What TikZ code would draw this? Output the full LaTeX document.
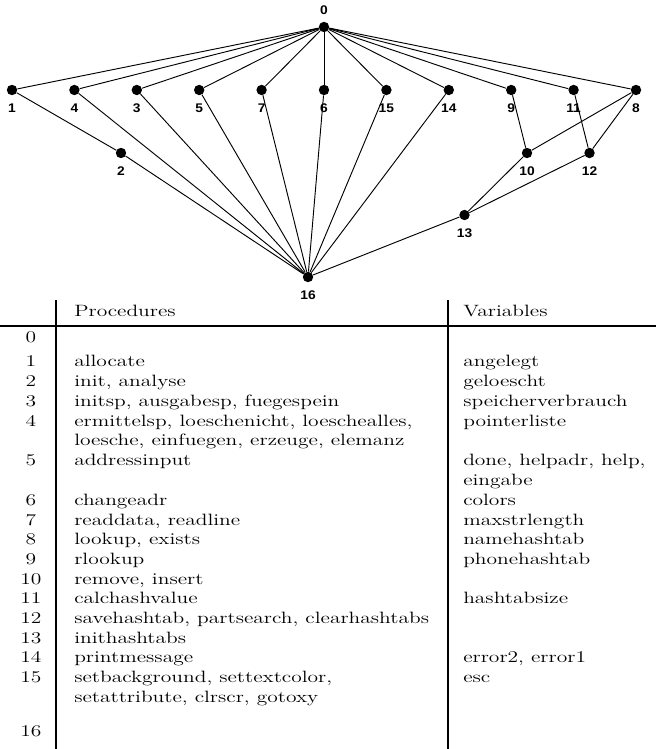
\documentclass[tikz,border=0pt]{standalone}
\usepackage{fontspec}
\usepackage{graphicx}
\newfontfamily\lblfont{Liberation Sans}
\newcommand{\sx}[1]{\scalebox{1.31}[1]{#1}}
\newcommand{\lx}[1]{\scalebox{1.1}[1]{\lblfont\bfseries #1}}
\begin{document}
\begin{tikzpicture}[x=0.75pt,y=-0.75pt,
  dot/.style={circle,fill=black,inner sep=0pt,minimum size=7.8pt},
  lbl/.style={inner sep=0pt,font=\fontsize{9.4}{11}\selectfont},
  edge/.style={line width=0.7pt},
  txt/.style={anchor=base west,inner sep=0pt,font=\fontsize{12.3}{14.8}\selectfont},
  num/.style={anchor=base,inner sep=0pt,font=\fontsize{12.3}{14.8}\selectfont},
  tabrule/.style={line width=1.5pt}]
\useasboundingbox (0,0) rectangle (656,749);
% graph nodes
\node[dot] (n0) at (324,27) {};
\node[dot] (n1) at (12,90) {};
\node[dot] (n4) at (74.4,90) {};
\node[dot] (n3) at (136.8,90) {};
\node[dot] (n5) at (199.2,90) {};
\node[dot] (n7) at (261.6,90) {};
\node[dot] (n6) at (324,90) {};
\node[dot] (n15) at (386.4,90) {};
\node[dot] (n14) at (448.8,90) {};
\node[dot] (n9) at (511.2,90) {};
\node[dot] (n11) at (573.6,90) {};
\node[dot] (n8) at (636,90) {};
\node[dot] (n2) at (121,153) {};
\node[dot] (n10) at (527,153) {};
\node[dot] (n12) at (589.5,153) {};
\node[dot] (n13) at (464.5,215) {};
\node[dot] (n16) at (308,277) {};
% labels
\node[lbl] (l0) at (324,10) {\lx{0}};
\node[lbl] (l1) at (12,108) {\lx{1}};
\node[lbl] (l4) at (74.4,108) {\lx{4}};
\node[lbl] (l3) at (136.8,108) {\lx{3}};
\node[lbl] (l5) at (199.2,108) {\lx{5}};
\node[lbl] (l7) at (261.6,108) {\lx{7}};
\node[lbl] (l6) at (324,108) {\lx{6}};
\node[lbl] (l15) at (386.4,108) {\lx{15}};
\node[lbl] (l14) at (448.8,108) {\lx{14}};
\node[lbl] (l9) at (511.2,108) {\lx{9}};
\node[lbl] (l11) at (573.6,108) {\lx{11}};
\node[lbl] (l8) at (636,108) {\lx{8}};
\node[lbl] (l2) at (121,171) {\lx{2}};
\node[lbl] (l10) at (527,171) {\lx{10}};
\node[lbl] (l12) at (589.5,171) {\lx{12}};
\node[lbl] (l13) at (464.5,233.5) {\lx{13}};
\node[lbl] (l16) at (308,295) {\lx{16}};
% edges
\foreach \t in {1,4,3,5,7,6,15,14,9,11,8} \draw[edge] (n0) -- (n\t);
\draw[edge] (n1) -- (n2);
\foreach \s in {2,4,3,5,7,6,15,14,13} \draw[edge] (n\s) -- (n16);
\draw[edge] (n9) -- (n10);
\draw[edge] (n8) -- (n10);
\draw[edge] (n11) -- (n12);
\draw[edge] (n8) -- (n12);
\draw[edge] (n10) -- (n13);
\draw[edge] (n12) -- (n13);
% table rules
\coordinate (va) at (56,300);
\coordinate (vb) at (56,749);
\coordinate (vc) at (448,300);
\coordinate (vd) at (448,749);
\coordinate (ha) at (0,325.5);
\coordinate (hb) at (656,325.5);
\draw[tabrule] (va) -- (vb);
\draw[tabrule] (vc) -- (vd);
\draw[tabrule] (ha) -- (hb);
% header
\node[txt] (hp) at (74,316.3) {\sx{Procedures}};
\node[txt] (hv) at (463,316.3) {\sx{Variables}};
% row numbers
\node[num] (k0) at (31,342.3) {\sx{0}};
\node[num] (k1) at (31,366.9) {\sx{1}};
\node[num] (k2) at (31,386.6) {\sx{2}};
\node[num] (k3) at (31,406.3) {\sx{3}};
\node[num] (k4) at (31,426) {\sx{4}};
\node[num] (k5) at (31,465.4) {\sx{5}};
\node[num] (k6) at (31,505.3) {\sx{6}};
\node[num] (k7) at (31,525) {\sx{7}};
\node[num] (k8) at (31,544.7) {\sx{8}};
\node[num] (k9) at (31,564.4) {\sx{9}};
\node[num] (k10) at (31,584.1) {\sx{10}};
\node[num] (k11) at (31,603.8) {\sx{11}};
\node[num] (k12) at (31,623.5) {\sx{12}};
\node[num] (k13) at (31,643.2) {\sx{13}};
\node[num] (k14) at (31,662.9) {\sx{14}};
\node[num] (k15) at (31,682.6) {\sx{15}};
\node[num] (k16) at (31,736.8) {\sx{16}};
% procedures
\node[txt] (p1) at (74,366.9) {\sx{allocate}};
\node[txt] (p2) at (74,386.6) {\sx{init, analyse}};
\node[txt] (p3) at (74,406.3) {\sx{initsp, ausgabesp, fuegespein}};
\node[txt] (p4) at (74,426) {\sx{ermittelsp, loeschenicht, loeschealles,}};
\node[txt] (p4b) at (74,445.7) {\sx{loesche, einfuegen, erzeuge, elemanz}};
\node[txt] (p5) at (74,465.4) {\sx{addressinput}};
\node[txt] (p6) at (74,505.3) {\sx{changeadr}};
\node[txt] (p7) at (74,525) {\sx{readdata, readline}};
\node[txt] (p8) at (74,544.7) {\sx{lookup, exists}};
\node[txt] (p9) at (74,564.4) {\sx{rlookup}};
\node[txt] (p10) at (74,584.1) {\sx{remove, insert}};
\node[txt] (p11) at (74,603.8) {\sx{calchashvalue}};
\node[txt] (p12) at (74,623.5) {\sx{savehashtab, partsearch, clearhashtabs}};
\node[txt] (p13) at (74,643.2) {\sx{inithashtabs}};
\node[txt] (p14) at (74,662.9) {\sx{printmessage}};
\node[txt] (p15) at (74,682.6) {\sx{setbackground, settextcolor,}};
\node[txt] (p15b) at (74,702.3) {\sx{setattribute, clrscr, gotoxy}};
% variables
\node[txt] (v1) at (463,366.9) {\sx{angelegt}};
\node[txt] (v2) at (463,386.6) {\sx{geloescht}};
\node[txt] (v3) at (463,406.3) {\sx{speicherverbrauch}};
\node[txt] (v4) at (463,426) {\sx{pointerliste}};
\node[txt] (v5) at (463,465.4) {\sx{done, helpadr, help,}};
\node[txt] (v5b) at (463,485.1) {\sx{eingabe}};
\node[txt] (v6) at (463,505.3) {\sx{colors}};
\node[txt] (v7) at (463,525) {\sx{maxstrlength}};
\node[txt] (v8) at (463,544.7) {\sx{namehashtab}};
\node[txt] (v9) at (463,564.4) {\sx{phonehashtab}};
\node[txt] (v11) at (463,603.8) {\sx{hashtabsize}};
\node[txt] (v14) at (463,662.9) {\sx{error2, error1}};
\node[txt] (v15) at (463,682.6) {\sx{esc}};
\end{tikzpicture}
\end{document}
